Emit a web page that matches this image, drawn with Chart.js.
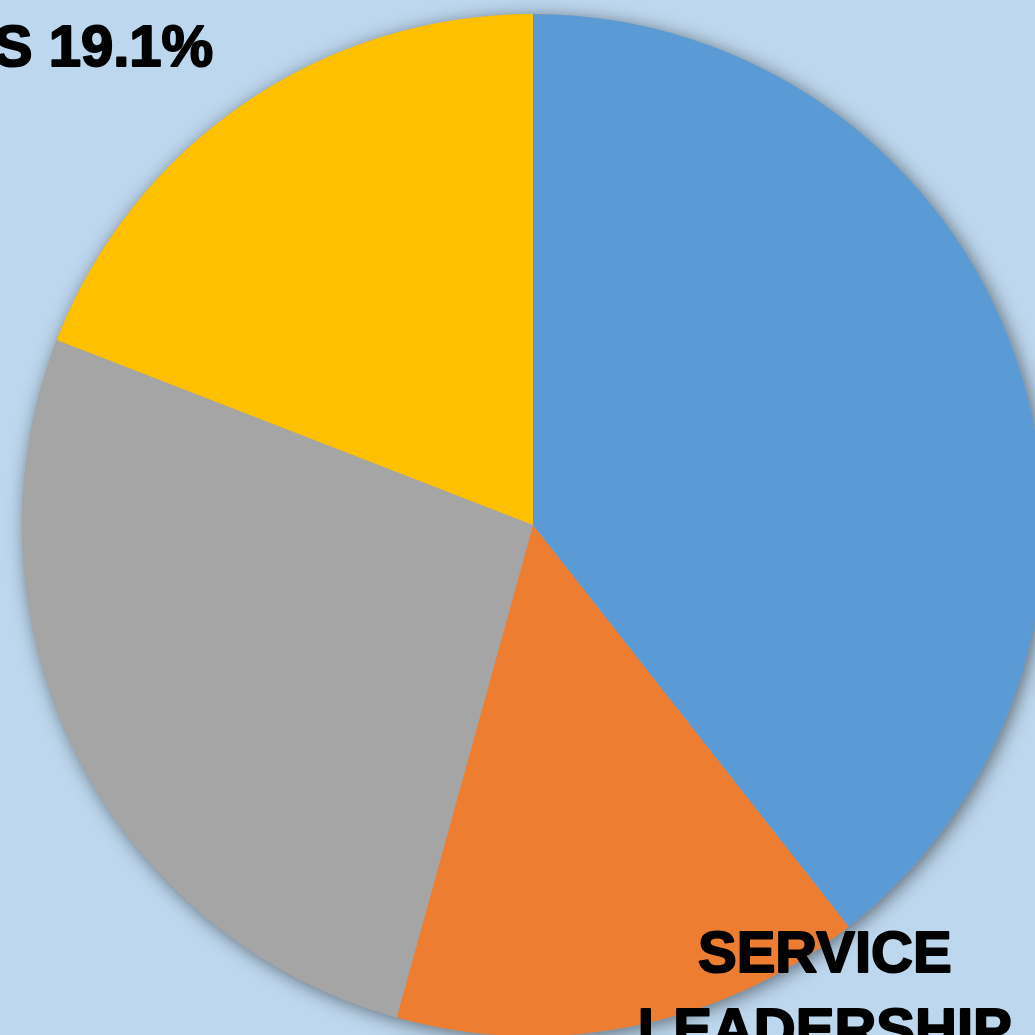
<!DOCTYPE html>
<html>
<head>
<meta charset="utf-8">
<script src="https://cdn.jsdelivr.net/npm/chart.js@4"></script>
<style>
    html, body {
        margin: 0;
        padding: 0;
        overflow: hidden;
        background: #bdd7ee;
    }
    #chart-wrap {
        position: absolute;
        left: 0;
        top: 0;
        width: 1100px;
        height: 1100px;
    }
</style>
</head>
<body>
<div id="chart-wrap"><canvas id="share-chart"></canvas></div>
<script>
const categories = [
    ["TRANSFORMATIONAL", "LEADERSHIP"],
    ["SERVICE", "LEADERSHIP"],
    ["TRANSACTIONAL", "LEADERSHIP"],
    ["OTHERS"]
];
const shares = [39.4, 14.9, 26.6, 19.1];
const sliceColors = ["#5b9bd5", "#ed7d31", "#a5a5a5", "#ffc000"];

// label anchors relative to the pie centre, in units of radius
const LABEL_SPOTS = [
    { dx: 1.15, dy: 0.0, align: "left", inline: false },
    { dx: 0.571, dy: 0.875, align: "center", inline: false },
    { dx: -1.2, dy: 0.3, align: "right", inline: false },
    { dx: -0.626, dy: -0.898, align: "right", inline: true }
];

const LABEL_FONT = "bold 58px 'Liberation Sans', Arial, sans-serif";
const LINE_HEIGHT = 77;

const pieShadow = {
    id: "pieShadow",
    beforeDatasetsDraw(chart) {
        const arc = chart.getDatasetMeta(0).data[0];
        if (!arc) {
            return;
        }
        const { ctx } = chart;
        ctx.save();
        ctx.shadowColor = "rgba(0, 0, 0, 0.5)";
        ctx.shadowBlur = 18;
        ctx.shadowOffsetX = 3;
        ctx.shadowOffsetY = 3;
        ctx.fillStyle = "#a5a5a5";
        ctx.beginPath();
        ctx.arc(arc.x, arc.y, arc.outerRadius, 0, Math.PI * 2);
        ctx.fill();
        ctx.restore();
    }
};

const sliceLabels = {
    id: "sliceLabels",
    afterDatasetsDraw(chart) {
        const arc = chart.getDatasetMeta(0).data[0];
        if (!arc) {
            return;
        }
        const { ctx } = chart;
        const r = arc.outerRadius;
        ctx.save();
        ctx.font = LABEL_FONT;
        ctx.fillStyle = "#000000";
        ctx.strokeStyle = "#000000";
        ctx.lineWidth = 2;
        ctx.lineJoin = "round";
        ctx.textBaseline = "alphabetic";

        categories.forEach((name, i) => {
            const spot = LABEL_SPOTS[i];
            const value = `${shares[i].toFixed(1)}%`;
            const lines = spot.inline
                ? [`${name.join(" ")} ${value}`]
                : name.concat(value);
            ctx.textAlign = spot.align;
            const x = arc.x + spot.dx * r;
            const y = arc.y + spot.dy * r;
            lines.forEach((line, n) => {
                ctx.fillText(line, x, y + n * LINE_HEIGHT);
                ctx.strokeText(line, x, y + n * LINE_HEIGHT);
            });
        });
        ctx.restore();
    }
};

new Chart(document.getElementById("share-chart"), {
    type: "pie",
    data: {
        labels: categories.map((c) => c.join(" ")),
        datasets: [
            {
                data: shares,
                backgroundColor: sliceColors,
                borderWidth: 0,
                hoverOffset: 0
            }
        ]
    },
    options: {
        responsive: true,
        maintainAspectRatio: false,
        animation: false,
        events: [],
        layout: {
            padding: { left: 22, top: 14, right: 56, bottom: 64 }
        },
        plugins: {
            legend: { display: false },
            tooltip: { enabled: false }
        }
    },
    plugins: [pieShadow, sliceLabels]
});
</script>
</body>
</html>
